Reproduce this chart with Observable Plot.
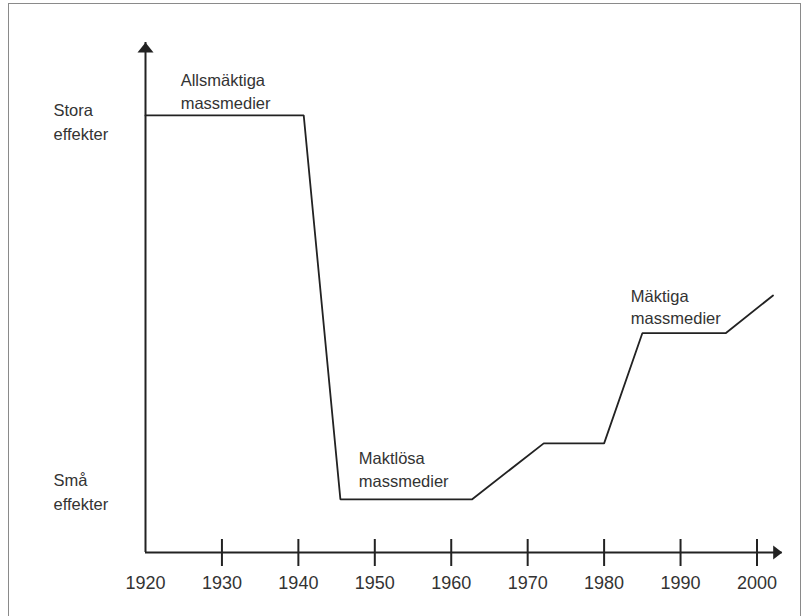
<!DOCTYPE html>
<html>
<head>
<meta charset="utf-8">
<script src="https://cdn.jsdelivr.net/npm/d3@7"></script>
<script src="https://cdn.jsdelivr.net/npm/@observablehq/plot@0.6"></script>
<style>
  html, body { margin: 0; padding: 0; background: #fff; overflow: hidden; }
  #wrap { position: relative; width: 810px; height: 616px; }
  #border { position: absolute; left: 8px; top: 3px; width: 793px; height: 640px;
            border: 1.3px solid #8a8a8a; box-sizing: border-box; pointer-events: none; }
</style>
</head>
<body>
<div id="wrap"><div id="border"></div></div>
<script>
// Data
const years  = [1920, 1940.7, 1945.5, 1962.7, 1972.1, 1980.0, 1985.0, 1995.9, 2002.1];
const effect = [85.7, 85.7, 10.4, 10.4, 21.4, 21.4, 43.0, 43.0, 50.4];

const tickYears  = [1930, 1940, 1950, 1960, 1970, 1980, 1990, 2000];
const labelYears = [1920, 1930, 1940, 1950, 1960, 1970, 1980, 1990, 2000];

const phaseLabels = ["Allsmäktiga\nmassmedier", "Maktlösa\nmassmedier", "Mäktiga\nmassmedier"];
const phaseX      = [1924.6, 1947.9, 1983.5];
const phaseY      = [90.6, 16.5, 48.4];

const levelLabels = ["Stora\neffekter", "Små\neffekter"];
const levelY      = [84.8, 12.2];

const xDomain = [1920, 2003.3];
const yDomain = [0, 100];

const lineData  = years.map((x, i) => ({x, y: effect[i]}));
const phaseData = phaseLabels.map((t, i) => ({t, x: phaseX[i], y: phaseY[i]}));
const levelData = levelLabels.map((t, i) => ({t, y: levelY[i]}));

const ink = "#222";
const txt = "#333";
const font = "'Liberation Sans', Arial, sans-serif";

const arrowUp = { draw(ctx) { ctx.moveTo(0, 0); ctx.lineTo(8, 10); ctx.lineTo(-8, 10); ctx.closePath(); } };
const arrowRight = { draw(ctx) { ctx.moveTo(0, 0); ctx.lineTo(-9, 7); ctx.lineTo(-9, -7); ctx.closePath(); } };

const chart = Plot.plot({
  width: 810,
  height: 616,
  marginLeft: 145,
  marginRight: 28.3,
  marginTop: 42,
  marginBottom: 64,
  style: { fontFamily: font, background: "transparent", overflow: "visible" },
  x: { domain: xDomain, axis: null },
  y: { domain: yDomain, axis: null },
  marks: [
    Plot.ruleX([xDomain[0]], { stroke: ink, strokeWidth: 2 }),
    Plot.ruleY([yDomain[0]], { stroke: ink, strokeWidth: 2 }),
    Plot.dot([{x: xDomain[0], y: yDomain[1]}], { x: "x", y: "y", symbol: arrowUp, fill: ink, stroke: null, r: 5 }),
    Plot.dot([{x: xDomain[1], y: yDomain[0]}], { x: "x", y: "y", symbol: arrowRight, fill: ink, stroke: null, r: 5 }),
    Plot.axisX(tickYears, { tickSize: 27, dy: -13, tickFormat: () => "", stroke: ink, strokeWidth: 2, label: null }),
    Plot.axisX(labelYears, { tickSize: 0, tickPadding: 24, tickFormat: d => String(d), fontSize: 18, fill: txt, label: null }),
    Plot.line(lineData, { x: "x", y: "y", stroke: ink, strokeWidth: 1.8, strokeLinejoin: "miter" }),
    Plot.text(phaseData, { x: "x", y: "y", text: "t", textAnchor: "start", lineAnchor: "middle", lineHeight: 1.35, fontSize: 16.5, fill: txt }),
    Plot.text(levelData, { x: () => xDomain[0], y: "y", text: "t", dx: -92, textAnchor: "start", lineAnchor: "middle", lineHeight: 1.45, fontSize: 16.5, fill: txt })
  ]
});
document.getElementById("wrap").prepend(chart);
chart.style.position = "absolute";
chart.style.left = "0";
chart.style.top = "0";
</script>
</body>
</html>
